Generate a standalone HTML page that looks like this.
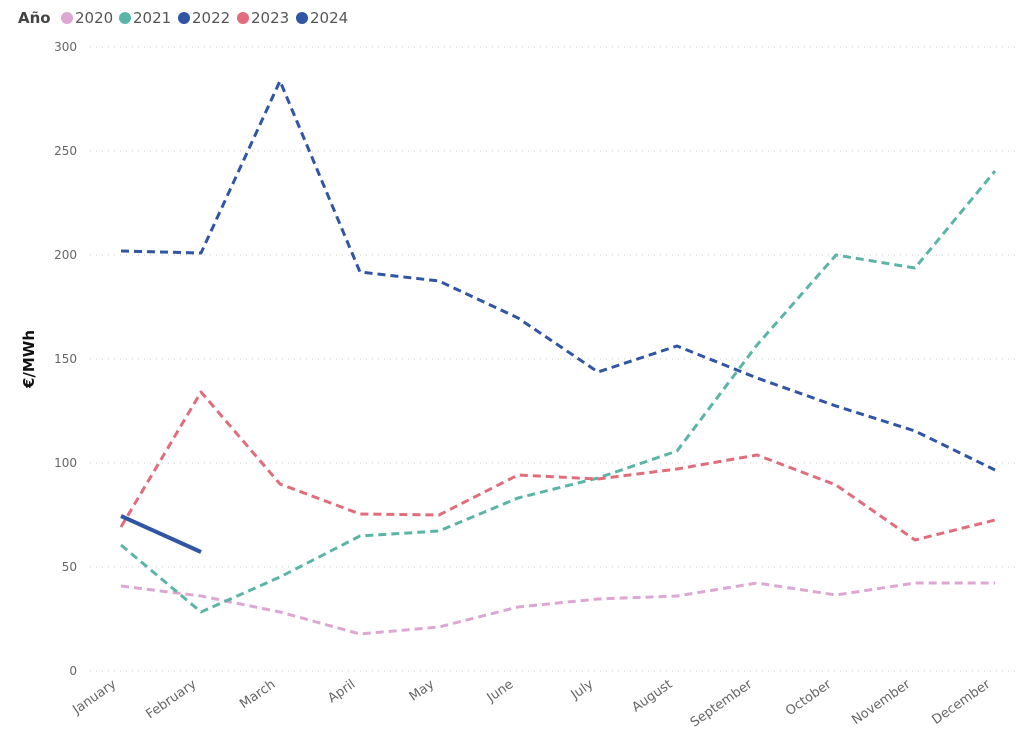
<!DOCTYPE html>
<html><head><meta charset="utf-8"><style>body{margin:0;background:#fff}svg{display:block}</style></head><body>
<svg width="1021" height="753" xmlns="http://www.w3.org/2000/svg" font-family="'DejaVu Sans','Liberation Sans',sans-serif">
<g font-size="15" fill="#555">
<text x="18" y="23" font-weight="bold" fill="#444">Año</text>
<circle cx="67" cy="18" r="6" fill="#DDA6D3"/><text x="75" y="23">2020</text>
<circle cx="125" cy="18" r="6" fill="#5BB5A6"/><text x="133" y="23">2021</text>
<circle cx="184" cy="18" r="6" fill="#2F55A4"/><text x="192" y="23">2022</text>
<circle cx="243" cy="18" r="6" fill="#E06C7C"/><text x="251" y="23">2023</text>
<circle cx="302" cy="18" r="6" fill="#2F55A4"/><text x="310" y="23">2024</text>
</g>
<g stroke="#ccc" stroke-dasharray="1,5" stroke-width="1">
<line x1="90" x2="1015" y1="47" y2="47"/><line x1="90" x2="1015" y1="151" y2="151"/><line x1="90" x2="1015" y1="255" y2="255"/><line x1="90" x2="1015" y1="359" y2="359"/><line x1="90" x2="1015" y1="463" y2="463"/><line x1="90" x2="1015" y1="567" y2="567"/><line x1="90" x2="1015" y1="671" y2="671"/>
</g>
<g font-size="12" fill="#666" text-anchor="end">
<text x="77" y="51">300</text><text x="77" y="155">250</text><text x="77" y="259">200</text><text x="77" y="363">150</text><text x="77" y="467">100</text><text x="77" y="571">50</text><text x="77" y="675">0</text>
</g>
<text transform="translate(34,359) rotate(-90)" text-anchor="middle" font-size="15" font-weight="bold" fill="#111">€/MWh</text>
<g font-size="13" fill="#666" text-anchor="end">
<text transform="translate(117,686) rotate(-35)">January</text>
<text transform="translate(197,686) rotate(-35)">February</text>
<text transform="translate(276,686) rotate(-35)">March</text>
<text transform="translate(356,686) rotate(-35)">April</text>
<text transform="translate(435,686) rotate(-35)">May</text>
<text transform="translate(514,686) rotate(-35)">June</text>
<text transform="translate(594,686) rotate(-35)">July</text>
<text transform="translate(673,686) rotate(-35)">August</text>
<text transform="translate(753,686) rotate(-35)">September</text>
<text transform="translate(832,686) rotate(-35)">October</text>
<text transform="translate(911,686) rotate(-35)">November</text>
<text transform="translate(991,686) rotate(-35)">December</text>
</g>
<g fill="none" stroke-width="3" stroke-dasharray="8,5" stroke-linejoin="round">
<polyline stroke="#DDA6D3" points="121,586 201,596 280,612 360,634 439,627 518,607 598,599 677,596 757,583 836,595 915,583 995,583"/>
<polyline stroke="#5BB5A6" points="121,545 201,612 280,577 360,536 439,531 518,498 598,478 677,451 757,345 836,255 915,268 995,171"/>
<polyline stroke="#2F55A4" points="121,251 201,253 280,81 360,272 439,281 518,318 598,372 677,346 757,378 836,406 915,431 995,470"/>
<polyline stroke="#E06C7C" points="121,527 201,392 280,484 360,514 439,515 518,475 598,479 677,469 757,455 836,485 915,540 995,520"/>
</g>
<polyline fill="none" stroke="#2F55A4" stroke-width="4" points="121,516 201,552"/>
</svg>
</body></html>
